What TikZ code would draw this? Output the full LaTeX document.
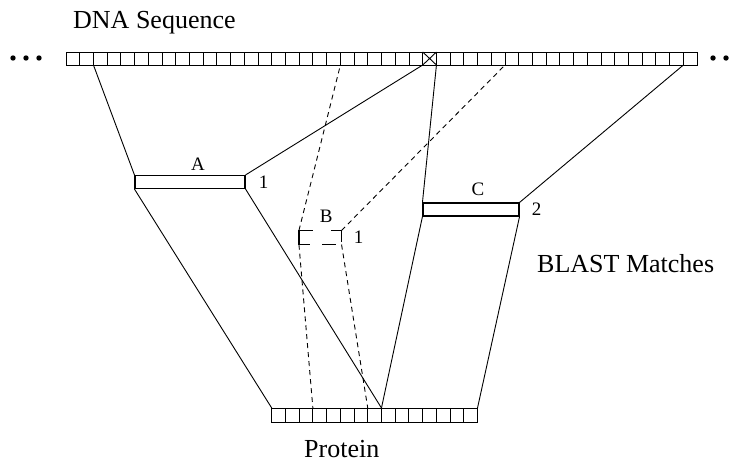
\documentclass[tikz,border=0pt]{standalone}
\usepackage{fontspec}
\setmainfont{Liberation Serif}
\usetikzlibrary{positioning}

\begin{document}
\begin{tikzpicture}[x=1pt,y=-1pt,
    seqcell/.style={draw,line width=1pt},
    matchbox/.style={draw,line width=1.1pt,inner sep=0pt,minimum height=13pt},
    tag/.style={font=\fontsize{19}{22}\selectfont,inner sep=0pt},
    caption/.style={font=\fontsize{26}{30}\selectfont,inner sep=0pt,anchor=base west},
    link/.style={line width=0.9pt},
    guess/.style={link,dash pattern=on 5pt off 4pt}
  ]
    \useasboundingbox (0,0) rectangle (735,464);
    \def\cw{13.72}
    \foreach \i in {0,...,45}
      \draw[seqcell] ({66+\i*\cw},52) rectangle ++(\cw,13);
    \foreach \i in {0,...,46} {
      \coordinate (dna\i) at ({66+\i*\cw},65);
      \coordinate (dnatop\i) at ({66+\i*\cw},52);
    }
    \foreach \i in {0,...,14}
      \draw[seqcell] ({271.7+\i*\cw},408) rectangle ++(\cw,14);
    \foreach \i in {0,...,15}
      \coordinate (prot\i) at ({271.7+\i*\cw},408);
    \foreach \x in {13,26,39,713,726,739}
      \fill (\x,58) circle (2.7);
    \draw[link] (dna26) -- (dnatop27) (dnatop26) -- (dna27);

    \node[caption] (dnalabel) at (73,28) {DNA Sequence};
    \node[caption] (blast) at (537,272) {BLAST Matches};
    \node[caption] (protlabel) at (304,457) {Protein};

    \node[matchbox,minimum width=110pt] (A) at (190,182) {};
    \node[matchbox,draw=none,minimum width=41.5pt] (B) at (320.25,237.5) {};
    \draw[line width=1.1pt,dash pattern=on 14pt off 18pt on 22.5pt off 8pt on 14pt off 12pt on 21pt off 0pt]
      (B.north west) -- (B.north east) -- (B.south east) -- (B.south west) -- cycle;
    \node[matchbox,minimum width=96pt] (C) at (471,209.5) {};

    \node[tag,above=4.5pt of A,xshift=8pt] (Aname) {A};
    \node[tag,above=8pt of B,xshift=6pt] (Bname) {B};
    \node[tag,above=7pt of C,xshift=7pt] (Cname) {C};
    \node[tag,right=13pt of A] (Anum) {1};
    \node[tag,right=12pt of B] (Bnum) {1};
    \node[tag,right=12pt of C] (Cnum) {2};

    \draw[link] (A.north west) -- (dna2);
    \draw[link] (A.north east) -- (dna26);
    \draw[link] (A.south west) -- (prot0);
    \draw[link] (A.south east) -- (prot8);
    \draw[guess] (B.north west) -- (dna20);
    \draw[guess] (B.north east) -- (dna32);
    \draw[guess] (B.south west) -- (prot3);
    \draw[guess] (B.south east) -- (prot7);
    \draw[link] (C.north west) -- (dna27);
    \draw[link] (C.north east) -- (dna45);
    \draw[link] (C.south west) -- (prot8);
    \draw[link] (C.south east) -- (prot15);
  \end{tikzpicture}
\end{document}
